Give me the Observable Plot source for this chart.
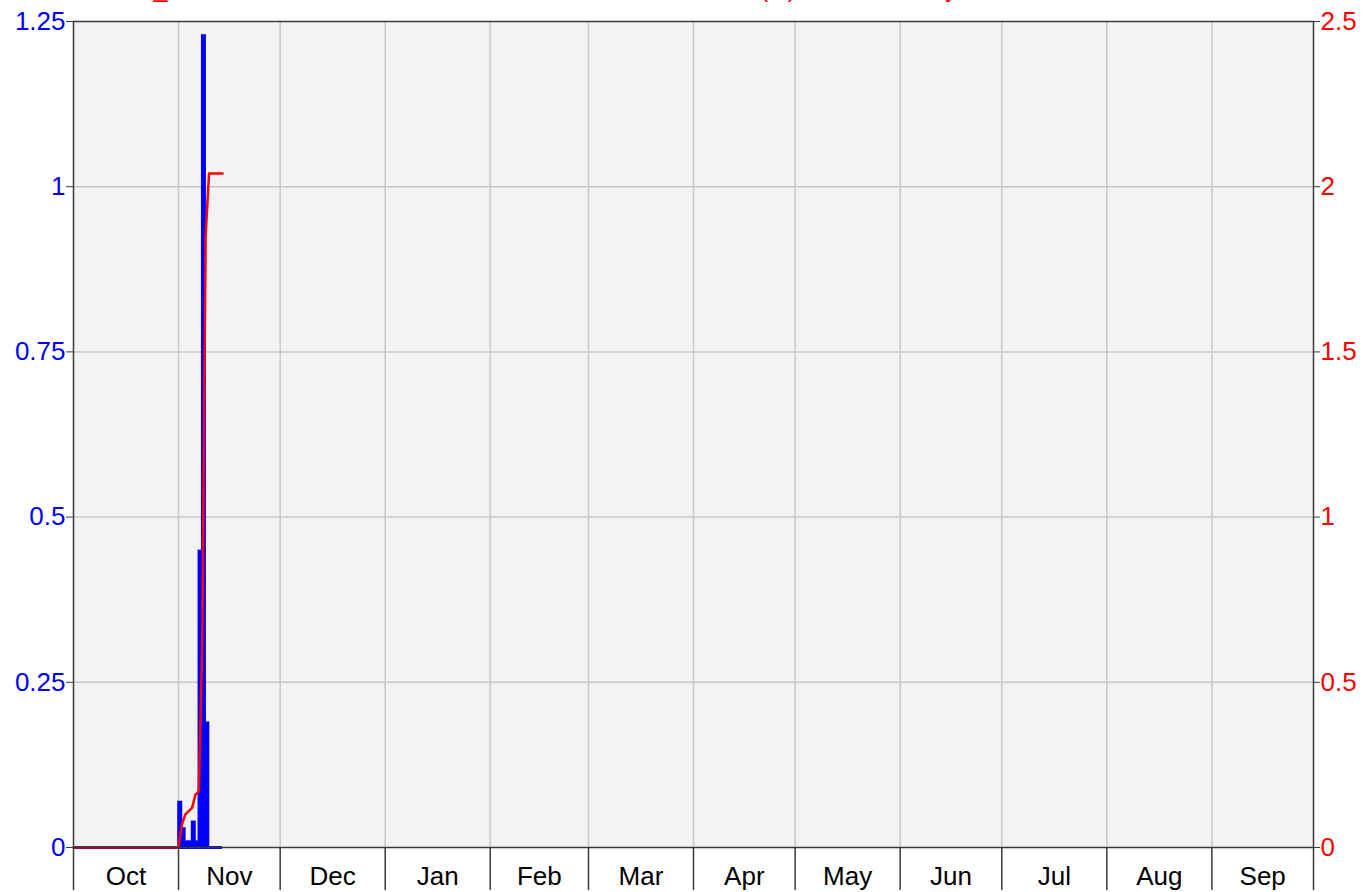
<!DOCTYPE html>
<html><head><meta charset="utf-8">
<script src="https://cdn.jsdelivr.net/npm/d3@7"></script>
<script src="https://cdn.jsdelivr.net/npm/@observablehq/plot@0.6"></script>
<style>
html,body{margin:0;padding:0;background:#fff;overflow:hidden;}
#wrap{position:relative;width:1370px;height:892px;}
#title{position:absolute;left:0;top:-24px;width:1370px;height:25px;font:25px/25px "Liberation Sans",Arial,sans-serif;color:#ff0000;white-space:nowrap;z-index:2;}
#title span{position:absolute;top:0;}
#chart{position:absolute;left:0;top:0;}
</style></head><body>
<div id="wrap">
  <div id="title"><span style="left:102px">Rain_Total</span><span style="right:574px">Cumulative Rain (in)</span><span style="left:902px">Daily</span></div>
  <div id="chart"></div>
</div>
<script>
// ---- data ----
const waterYearStart = "2023-10-01";
const waterYearEnd = "2024-10-01";
const monthNames = ["Oct","Nov","Dec","Jan","Feb","Mar","Apr","May","Jun","Jul","Aug","Sep"];
// daily precipitation (in), Oct 1 .. Nov 13
const dailyPrecip = [
  0,0,0,0,0,0,0,0,0,0,
  0,0,0,0,0,0,0,0,0,0,
  0,0,0,0,0,0,0,0,0,0,
  0,
  0.07,0.03,0.01,0.01,0.04,0.01,0.45,1.23,0.19,0,0,0,0
];
const leftTicks = [0,0.25,0.5,0.75,1,1.25];
const leftTickLabels = ["0","0.25","0.5","0.75","1","1.25"];
const rightTickLabels = ["0","0.5","1","1.5","2","2.5"];
const leftMax = 1.25;
const rightMax = 2.5;

// ---- build ----
const parse = d3.utcParse("%Y-%m-%d");
const x0 = parse(waterYearStart), x1 = parse(waterYearEnd);
const days = dailyPrecip.map((v,i)=>({date:d3.utcDay.offset(x0,i), next:d3.utcDay.offset(x0,i+1), precip:v}));
const cum = Array.from(d3.cumsum(dailyPrecip));
const cumPts = [{date:x0,total:0}, ...days.map((d,i)=>({date:d.next,total:cum[i]}))];
const k = leftMax/rightMax;
const monthStarts = d3.utcMonths(x0, x1);
const monthEdges = [...monthStarts, x1];
const monthTable = monthStarts.map((m,i)=>({date:new Date((+m + +monthEdges[i+1])/2), label:monthNames[i]}));
const dark = "#3a3a3a";

const chart = Plot.plot({
  width:1370, height:892,
  marginLeft:73, marginRight:57, marginTop:21, marginBottom:45,
  style:{fontFamily:'"Liberation Sans", Arial, sans-serif', fontSize:"26px", background:"white"},
  x:{type:"utc", domain:[x0,x1]},
  y:{domain:[0,leftMax]},
  marks:[
    Plot.frame({fill:"#f3f3f3", stroke:null}),
    Plot.gridX({ticks:monthStarts.slice(1), stroke:"#c8c8c8", strokeOpacity:1, strokeWidth:1.5}),
    Plot.gridY({ticks:leftTicks.slice(1,-1), stroke:"#c8c8c8", strokeOpacity:1, strokeWidth:1.5}),
    Plot.rectY(days.filter(d=>d.precip>0), {x1:"date", x2:"next", y:"precip", fill:"#0000ff", insetLeft:-0.8, insetRight:-0.8}),
    Plot.ruleY([0], {x1:x0, x2:days[days.length-1].next, stroke:"#0000ff", strokeWidth:3}),
    Plot.line(cumPts, {x:"date", y:d=>d.total*k, stroke:"#ff0000", strokeWidth:2.5}),
    Plot.frame({stroke:dark, strokeWidth:1.5}),
    Plot.axisY({anchor:"left", label:null, ticks:leftTicks, tickFormat:d=>leftTickLabels[leftTicks.indexOf(d)], tickSize:7, tickPadding:1, fill:"#0000ff", stroke:dark, fontSize:26}),
    Plot.axisY({anchor:"right", label:null, ticks:leftTicks, tickFormat:d=>rightTickLabels[leftTicks.indexOf(d)], tickSize:6, tickPadding:1, fill:"#ff0000", stroke:dark, fontSize:26}),
    Plot.axisX({anchor:"bottom", label:null, ticks:monthEdges, tickSize:43, tickFormat:()=>"", stroke:dark, strokeWidth:1.5}),
    Plot.text(monthTable, {x:"date", text:"label", frameAnchor:"bottom", dy:37, fill:"#000", fontSize:26})
  ]
});
document.getElementById("chart").appendChild(chart);
</script>
</body></html>
